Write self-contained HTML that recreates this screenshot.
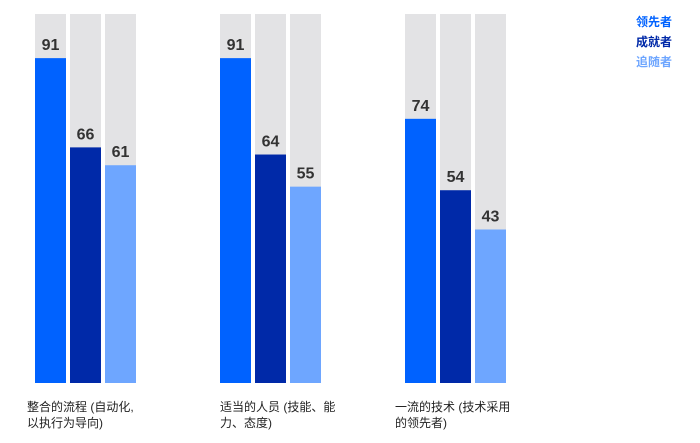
<!DOCTYPE html>
<html><head><meta charset="utf-8">
<style>
html,body{margin:0;padding:0;background:#fff;}
body{width:700px;height:443px;position:relative;overflow:hidden;font-family:"Liberation Sans","Noto Sans CJK SC",sans-serif;}
.cat{position:absolute;font-size:12px;color:#222;line-height:16px;}
.leg{position:absolute;right:28px;font-size:12px;font-weight:bold;line-height:20px;text-align:right;}
</style></head><body>
<svg id="chart" width="700" height="443" style="position:absolute;left:0;top:0"></svg>
<div class="cat" style="left:27px;top:399px">整合的流程 (自动化,<br>以执行为导向)</div>
<div class="cat" style="left:220px;top:399px">适当的人员 (技能、能<br>力、态度)</div>
<div class="cat" style="left:395px;top:399px">一流的技术 (技术采用<br>的领先者)</div>
<div>
<div class="leg" style="top:12px;color:#0062ff">领先者</div>
<div class="leg" style="top:32px;color:#0029a8">成就者</div>
<div class="leg" style="top:52px;color:#6ea6ff">追随者</div>
</div>
<script>
const categories = ["整合的流程","适当的人员","一流的技术"];
const seriesNames = ["领先者","成就者","追随者"];
const leaders = [91, 91, 74];
const achievers = [66, 64, 54];
const followers = [61, 55, 43];
const series = [leaders, achievers, followers];
const colors = ["#0062ff","#0029a8","#6ea6ff"];
const svg = document.getElementById('chart');
const NS = "http://www.w3.org/2000/svg";
const baseY = 383, topY = 14, pxPerUnit = 3.57;
const groupX = [35, 220, 405], barW = 31, step = 35;
function y(v){ return baseY - v*pxPerUnit; }
categories.forEach((c, gi) => {
  series.forEach((s, si) => {
    const x = groupX[gi] + si*step;
    const bg = document.createElementNS(NS,'rect');
    
    
    bg.setAttribute('x', x); bg.setAttribute('y', topY);
    bg.setAttribute('width', barW); bg.setAttribute('height', baseY-topY);
    bg.setAttribute('fill', '#e3e3e5');
    svg.appendChild(bg);
    const r = document.createElementNS(NS,'rect');
    
    
    r.setAttribute('x', x); r.setAttribute('y', y(s[gi]));
    r.setAttribute('width', barW); r.setAttribute('height', baseY - y(s[gi]));
    r.setAttribute('fill', colors[si]);
    svg.appendChild(r);
    const t = document.createElementNS(NS,'text');
    
    
    t.setAttribute('x', x + barW/2); t.setAttribute('y', y(s[gi]) - 8);
    t.setAttribute('text-anchor', 'middle');
    t.setAttribute('font-size', '16');
    t.setAttribute('font-weight', 'bold');
    t.setAttribute('fill', '#333');
    t.setAttribute('font-family', 'Liberation Sans, sans-serif');
    t.textContent = s[gi];
    svg.appendChild(t);
  });
});
</script>
</body></html>
